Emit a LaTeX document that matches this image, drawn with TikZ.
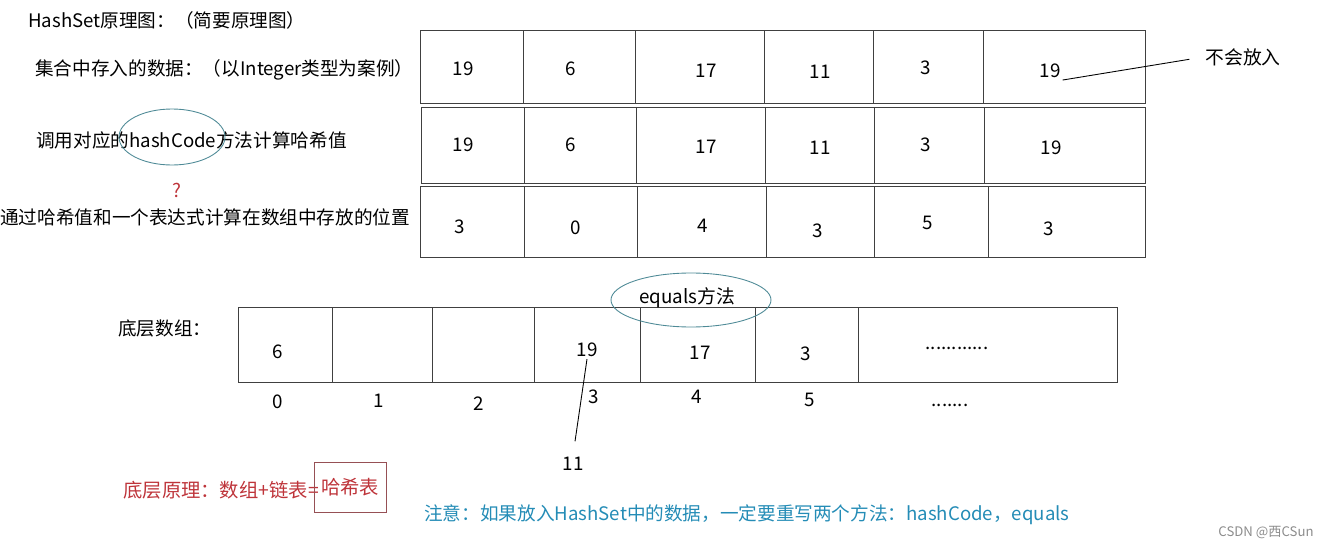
\documentclass[tikz,border=0pt]{standalone}
\usepackage{fontspec}
\setmainfont{Noto Sans CJK SC}
\usetikzlibrary{positioning}
\definecolor{notered}{RGB}{190,52,58}
\definecolor{noteblue}{RGB}{36,140,182}
\definecolor{ringcol}{RGB}{78,138,150}
\definecolor{boxcol}{RGB}{150,80,85}
\tikzset{
  cellrow/.style={draw=black!75,line width=0.5pt},
  val/.style={font=\fontsize{10.7}{13}\selectfont,inner sep=1pt},
  lbl/.style={font=\fontsize{10.6}{13}\selectfont,anchor=west,inner sep=0pt},
  ring/.style={draw=ringcol,line width=0.5pt},
}
\begin{document}
\begin{tikzpicture}[x=0.02cm,y=-0.02cm]
    \useasboundingbox (0,0) rectangle (1323,551);
    % left labels
    \node[lbl] (title) at (28,20) {HashSet原理图：（简要原理图）};
    \node[lbl] (lrow1) at (35,70) {集合中存入的数据：（以Integer类型为案例）};
    \node[lbl] (lrow2) at (36,140) {调用对应的hashCode方法计算哈希值};
    \node[lbl] (lrow3) at (0,217) {通过哈希值和一个表达式计算在数组中存放的位置};
    \node[val,text=notered] (ask) at (177,190) {?};
    \draw[ring] (172,137) ellipse [x radius=53, y radius=28];
    % three rows
    \draw[cellrow] (420,30) rectangle (1145,103);
    \foreach \x in {523,635,764,873,983} \draw[cellrow] (\x,30) -- (\x,103);
    \draw[cellrow] (421,107) rectangle (1145,183);
    \foreach \x in {524,636,765,874,984} \draw[cellrow] (\x,107) -- (\x,183);
    \draw[cellrow] (420,186) rectangle (1145,257);
    \foreach \x in {524,637,766,874,988} \draw[cellrow] (\x,186) -- (\x,257);
    \foreach \x/\y/\t [count=\i] in {463/69/19,571/69/6,706/71/17,820/72/11,926/68/3,1050/71/19}
        \node[val] (ra\i) at (\x,\y) {\t};
    \foreach \x/\y/\t [count=\i] in {463/145/19,571/145/6,706/147/17,820/148/11,926/145/3,1051/148/19}
        \node[val] (rb\i) at (\x,\y) {\t};
    \foreach \x/\y/\t [count=\i] in {460/227/3,576/228/0,703/226/4,818/231/3,928/223/5,1049/229/3}
        \node[val] (rc\i) at (\x,\y) {\t};
    \node[val] (bufang) at (1243,57) {不会放入};
    \draw[line width=0.5pt,shorten >=8pt] (ra6.south east) -- (bufang.west);
    % bottom array
    \node[lbl] (lbase) at (118,328) {底层数组：};
    \draw[cellrow] (238,307) rectangle (1117,382);
    \foreach \x in {332,432,534,640,755,858} \draw[cellrow] (\x,307) -- (\x,382);
    \node[val] (b0) at (278,352) {6};
    \node[val] (b3) at (587,350) {19};
    \node[val] (b4) at (700,353) {17};
    \node[val] (b5) at (806,354) {3};
    \node[val] (bmore) at (957,348) {............};
    \foreach \x/\y/\t [count=\i] in {278/402/0,379/401/1,479/404/2,594/397/3,697/397/4,810/400/5}
        \node[val] (idx\i) at (\x,\y) {\t};
    \node[val] (idxmore) at (950,405) {.......};
    \node[val] (b11) at (573,464) {11};
    \draw[line width=0.5pt,shorten >=8pt] (b3.south) -- (b11.north);
    \node[val] (eq) at (687,298) {equals方法};
    \draw[ring] (691,300) ellipse [x radius=80, y radius=27];
    % notes
    \node[lbl,text=notered,font=\fontsize{11}{13}\selectfont] (theory) at (123,490) {底层原理：数组+链表=};
    \node[val,text=notered,draw=boxcol,line width=0.5pt,inner xsep=4pt,minimum height=1cm,font=\fontsize{11}{13}\selectfont] (hashtab) at (350,487) {哈希表};
    \node[lbl,text=noteblue] (warn) at (424,515) {注意：如果放入HashSet中的数据，一定要重写两个方法：hashCode，equals};
    \node[val,text=black!45,font=\fontsize{7.5}{9}\selectfont] (mark) at (1266,533) {CSDN @西CSun};
\end{tikzpicture}
\end{document}
